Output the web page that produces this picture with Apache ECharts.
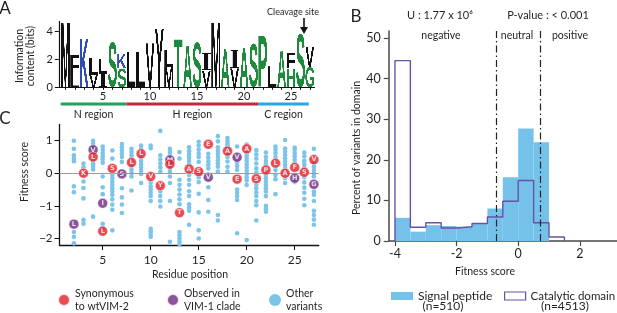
<!DOCTYPE html>
<html>
<head>
<meta charset="utf-8">
<script src="https://cdn.jsdelivr.net/npm/echarts@6/dist/echarts.min.js"></script>
<style>
  html, body { margin: 0; padding: 0; background: #fff; }
  #chart { width: 617px; height: 313px; }
</style>
</head>
<body>
<div id="chart"></div>
<script>
// ---------- Panel A : sequence logo ----------
// letters of each residue stack, bottom to top, and their heights in bits
const logoLetters = [['M'], ['L', 'F'], ['K'], ['V', 'L'], ['I', 'L'], ['S'], ['S', 'K'], ['L'], ['L'], ['V'],
  ['Y'], ['M', 'L'], ['T'], ['A'], ['S'], ['V', 'I'], ['M'], ['A'], ['V', 'I'], ['A'],
  ['S'], ['P'], ['L'], ['A'], ['H', 'F'], ['S'], ['G', 'V']];
const logoHeights = [[4.65], [0.8, 1.5], [3.5], [0.9, 1.2], [1.0, 1.05], [3.25], [1.35, 1.05], [2.55], [2.55], [3.15],
  [4.2], [1.45, 1.2], [3.45], [3.0], [3.25], [1.2, 1.25], [4.65], [2.75], [1.35, 1.35], [2.85],
  [3.15], [3.65], [1.5], [2.6], [1.35, 1.1], [3.85], [1.45, 1.45]];
const logoTickLabels = [5, 10, 15, 20, 25];
const regionNames = ['N region', 'H region', 'C region'];
const regionStarts = [0.5, 7.5, 21.5];
const regionEnds = [7.5, 21.5, 26.9];

// ---------- Panel C : fitness per residue ----------
const otherPositions = [2, 3, 4, 5, 6, 7, 8, 9, 10, 11, 12, 13, 14, 15, 16, 17, 18, 19, 20, 21, 22, 23, 24, 25, 26, 27];
const otherScores = [
  [1.0, 0.75, 0.55, 0.45, 0.37, -0.4, -0.58, -1.8, -1.95, -2.15],
  [0.3, 0.18, -0.25, -0.45, -0.77, -1.43, -1.55],
  [1.0, 0.9, 0.8, 0.62, 0.42, 0.35, 0.28, 0.2, 0.12, -1.33],
  [0.82, 0.72, 0.62, 0.52, 0.42, 0.32, -0.1, -0.43, -0.64, -1.55, -1.67],
  [0.7, 0.45, -0.05, -0.15, -0.26, -0.36, -0.46, -0.56, -0.66, -0.8, -0.96, -1.12, -1.75],
  [0.9, 0.8, 0.7, 0.6, 0.5, 0.35, -0.46, -0.74, -0.96, -1.22],
  [0.75, 0.65, 0.55, 0.45, 0.22, 0.12, 0.02, -0.1, -0.53],
  [0.85, 0.75, 0.48, 0.38, 0.28, 0.18, 0.08, -0.02, -0.3],
  [0.85, 0.77, -0.28, -0.4, -0.5, -0.6, -0.7, -0.85, -1.7, -1.78, -1.86, -1.95],
  [1.3, 0.55, 0.42, 0.3, 0.18, 0.05, -0.56, -0.7, -0.85, -1.02],
  [0.75, 0.65, 0.55, 0.15, 0.05, -0.1, -0.3, -0.85, -2.1],
  [0.65, 0.45, -0.2, -0.35, -0.5, -0.65, -0.8, -0.95, -1.8, -1.9, -2.0, -2.1, -2.18],
  [0.8, 0.68, 0.58, 0.48, 0.38, 0.28, -0.05, -0.2, -0.35, -0.55, -0.7, -0.95, -1.05, -1.15, -1.58],
  [0.97, 0.85, 0.72, 0.6, 0.5, 0.35, -0.12, -0.27, -0.63, -1.2, -1.75, -2.0],
  [0.6, 0.48, 0.36, 0.26, 0.15, -0.43, -0.82, -1.18],
  [1.14, 0.98, 0.8, 0.7, 0.6, 0.5, 0.4, 0.3, 0.2, 0.05, -1.28, -1.45],
  [1.08, 1.0, 0.93, 0.86, 0.8, 0.74, 0.6, 0.5, 0.36, 0.2, 0.05],
  [0.82, 0.33, 0.22, 0.1, -0.5, -0.6, -0.7, -0.82, -1.84],
  [0.88, 0.64, 0.55, 0.47, 0.38, 0.28, 0.18, 0.08, -0.02, -0.12, -0.22, -0.36, -2.05],
  [0.71, 0.58, 0.45, 0.3, 0.15, 0.02, -0.35, -0.46, -0.58, -0.7, -0.85, -0.98, -1.45],
  [0.64, 0.5, 0.38, 0.28, -0.05, -0.15, -0.26, -0.36, -0.46, -0.56, -0.7, -1.0, -1.1, -1.18],
  [0.82, 0.72, 0.62, 0.5, 0.1, -0.05, -0.18, -0.64],
  [1.02, 0.76, 0.66, 0.56, 0.46, 0.36, 0.26, 0.16, 0.07, -0.15, -0.3],
  [0.79, 0.72, 0.62, 0.52, 0.42, 0.32, -0.27],
  [0.64, 0.52, 0.38, 0.28, 0.18, -0.12, -0.28, -0.44, -0.6, -0.78, -0.98],
  [0.75, 0.3, 0.2, 0.1, 0.0, -0.1, -0.56, -0.66, -0.85, -1.15, -1.28, -1.42, -1.58]
];
const synPositions = [3, 4, 5, 6, 8, 9, 10, 11, 12, 13, 14, 15, 16, 18, 19, 20, 21, 22, 23, 24, 25, 26, 27];
const synScores = [0.0, 0.5, -1.78, 0.15, 0.33, 0.6, -0.1, -0.38, 0.28, -1.21, 0.13, 0.05, 0.89, 0.68, -0.18, 0.75, -0.17, 0.1, 0.31, 0.0, 0.18, 0.03, 0.42];
const synResidues = ['K', 'L', 'L', 'S', 'L', 'L', 'V', 'Y', 'L', 'T', 'A', 'S', 'E', 'A', 'E', 'A', 'S', 'P', 'L', 'A', 'F', 'S', 'V'];
const cladePositions = [2, 4, 5, 7, 12, 16, 19, 25, 27];
const cladeScores = [-1.56, 0.72, -0.92, -0.02, 0.41, -0.12, 0.49, -0.15, -0.34];
const cladeResidues = ['L', 'V', 'I', 'S', 'M', 'V', 'V', 'H', 'G'];
const positionTicks = [5, 10, 15, 20, 25];
const scoreTicks = [-2, -1, 0, 1];

// ---------- Panel B : histogram ----------
const binStarts = [-4, -3.5, -3, -2.5, -2, -1.5, -1, -0.5, 0, 0.5, 1];
const binWidth = 0.5;
const signalPct = [5.7, 2.3, 3.9, 3.7, 3.5, 4.2, 8.0, 15.7, 27.7, 24.3, 0];
const catalyticPct = [44.4, 3.4, 4.5, 3.2, 3.5, 4.3, 5.9, 9.8, 14.9, 4.5, 1.0];
const fitnessCutoffs = [-0.7, 0.7];
const fitnessTicks = [-4, -2, 0, 2];
const percentTicks = [0, 10, 20, 30, 40, 50];

const FONT = 'Lato';
const TXT = '#231f20';
const LOGO_FONT = 'bold 100px "Liberation Sans"';
const LOGO_FONT_SERIF = 'bold 100px "Liberation Serif"';
const letterColor = { K: '#2e4cb3', S: '#1d8a3e', T: '#1d8a3e', A: '#1d8a3e', P: '#1d8a3e', G: '#1d8a3e', H: '#1d8a3e' };
const regionColors = ['#22a05c', '#c32a3d', '#28a8e2'];

// each logo letter is painted once into a canvas cropped to its glyph box,
// then stretched over its cell as an image (I keeps its serifs, as in the logo)
const glyphCanvas = {};
function glyphImage (ch, color) {
  const key = ch + color;
  if (!glyphCanvas[key]) {
    const W = 90, H = 140;
    const cv = document.createElement('canvas');
    cv.width = W; cv.height = H;
    const ctx = cv.getContext('2d');
    ctx.font = ch === 'I' ? LOGO_FONT_SERIF : LOGO_FONT;
    ctx.textAlign = 'center';
    ctx.textBaseline = 'middle';
    const m = ctx.measureText(ch);
    const l = -m.actualBoundingBoxLeft, r = m.actualBoundingBoxRight;
    const t = -m.actualBoundingBoxAscent, b = m.actualBoundingBoxDescent;
    const sx = W / (r - l), sy = H / (b - t);
    ctx.setTransform(sx, 0, 0, sy, -l * sx, -t * sy);
    ctx.fillStyle = color;
    ctx.fillText(ch, 0, 0);
    glyphCanvas[key] = cv;
  }
  return glyphCanvas[key];
}

const logoItems = [];
logoLetters.forEach((stack, i) => {
  let base = 0;
  stack.forEach((ch, k) => {
    logoItems.push({ pos: i + 1, base: base, h: logoHeights[i][k], ch: ch });
    base += logoHeights[i][k];
  });
});

const otherData = [];
otherPositions.forEach((p, i) => otherScores[i].forEach(v => otherData.push([p, v])));

const axisText = (size) => ({ fontFamily: FONT, fontSize: size, color: TXT });
const minus = v => (v < 0 ? '\u2212' + Math.abs(v) : String(v));

const option = {
  animation: false,
  grid: [
    { left: 58.8, top: 21.5, width: 255.7, height: 65.8, containLabel: false, outerBoundsMode: 'none' },
    { left: 59.5, top: 124.4, width: 259.2, height: 120.6, containLabel: false, outerBoundsMode: 'none' },
    { left: 388.8, top: 31, width: 228, height: 210, containLabel: false, outerBoundsMode: 'none' }
  ],
  xAxis: [
    {
      gridIndex: 0, type: 'value', min: 0.3, max: 27.5,
      axisLine: { onZero: false, lineStyle: { color: '#111', width: 1.2 } },
      axisTick: { customValues: logoLetters.map((s, i) => i + 1), length: 2.5, lineStyle: { color: '#111' } },
      axisLabel: Object.assign({ customValues: logoTickLabels, margin: 4 }, axisText(11)),
      splitLine: { show: false }
    },
    {
      gridIndex: 1, type: 'value', min: 0.5, max: 27.5,
      axisLine: { onZero: false, lineStyle: { color: '#111', width: 1.3 } },
      axisTick: { customValues: positionTicks, length: 5, lineStyle: { color: '#111' } },
      axisLabel: Object.assign({ customValues: positionTicks, margin: 9 }, axisText(12)),
      splitLine: { show: false }
    },
    {
      gridIndex: 2, type: 'value', min: -4.2, max: 3.2,
      axisLine: { onZero: false, lineStyle: { color: '#4a4a4a', width: 1.5 } },
      axisTick: { customValues: fitnessTicks, length: 5, lineStyle: { color: '#4a4a4a', width: 1.2 } },
      axisLabel: Object.assign({ customValues: fitnessTicks, margin: 6 }, axisText(12.5)),
      splitLine: { show: false }
    }
  ],
  yAxis: [
    {
      gridIndex: 0, type: 'value', min: 0, max: 4.7,
      axisLine: { show: true, onZero: false, lineStyle: { color: '#111', width: 1.2 } },
      axisTick: { show: true, customValues: [0, 2, 4], length: 4, lineStyle: { color: '#111' } },
      axisLabel: Object.assign({ customValues: [0, 2, 4], margin: 6 }, axisText(11)),
      splitLine: { show: false }
    },
    {
      gridIndex: 1, type: 'value', min: -2.2, max: 1.5,
      axisLine: { show: true, onZero: false, lineStyle: { color: '#111', width: 1.3 } },
      axisTick: { show: true, customValues: scoreTicks, length: 5, lineStyle: { color: '#111' } },
      axisLabel: Object.assign({ customValues: scoreTicks, margin: 7, formatter: minus }, axisText(11.5)),
      splitLine: { show: false }
    },
    {
      gridIndex: 2, type: 'value', min: 0, max: 51.7,
      axisLine: { show: true, onZero: false, lineStyle: { color: '#4a4a4a', width: 1.5 } },
      axisTick: { show: true, customValues: percentTicks, length: 5, lineStyle: { color: '#4a4a4a', width: 1.2 } },
      axisLabel: Object.assign({ customValues: percentTicks, margin: 8 }, axisText(12.5)),
      splitLine: { show: false }
    }
  ],
  legend: [
    { data: ['syn'], left: 52, top: 282, icon: 'circle', itemWidth: 12, itemHeight: 12, selectedMode: false,
      formatter: () => 'Synonymous\nto wtVIM-2', textStyle: { fontFamily: FONT, fontSize: 10.5, lineHeight: 13, color: TXT } },
    { data: ['clade'], left: 161, top: 282, icon: 'circle', itemWidth: 12, itemHeight: 12, selectedMode: false,
      formatter: () => 'Observed in\nVIM-1 clade', textStyle: { fontFamily: FONT, fontSize: 10.5, lineHeight: 13, color: TXT } },
    { data: ['other'], left: 264, top: 282, icon: 'circle', itemWidth: 12, itemHeight: 12, selectedMode: false,
      formatter: () => 'Other\nvariants', textStyle: { fontFamily: FONT, fontSize: 10.5, lineHeight: 13, color: TXT } },
    { data: [{ name: 'signal', icon: 'rect' }], left: 386, top: 284.5, itemWidth: 22, itemHeight: 8, selectedMode: false,
      formatter: () => 'Signal peptide', textStyle: { fontFamily: FONT, fontSize: 12, lineHeight: 13, color: TXT } },
    { data: [{ name: 'catalytic', icon: 'rect', itemStyle: { color: '#fff', borderColor: '#6b51a6', borderWidth: 1.2 } }],
      left: 499, top: 284.5, itemWidth: 21, itemHeight: 8, selectedMode: false,
      formatter: () => 'Catalytic domain', textStyle: { fontFamily: FONT, fontSize: 11.5, lineHeight: 13, color: TXT } }
  ],
  series: [
    // A: logo letters, each stretched into its cell
    {
      type: 'custom', xAxisIndex: 0, yAxisIndex: 0, clip: false, silent: true,
      data: logoItems.map(d => [d.pos, d.base, d.h]),
      renderItem: function (params, api) {
        const it = logoItems[params.dataIndex];
        const p0 = api.coord([api.value(0) - 0.47, api.value(1) + api.value(2)]);
        const p1 = api.coord([api.value(0) + 0.47, api.value(1)]);
        return {
          type: 'image',
          style: { image: glyphImage(it.ch, letterColor[it.ch] || '#111'), x: p0[0], y: p0[1], width: p1[0] - p0[0], height: p1[1] - p0[1] }
        };
      }
    },
    // A: N / H / C region bars under the logo
    {
      type: 'custom', xAxisIndex: 0, yAxisIndex: 0, clip: false, silent: true,
      data: regionStarts.map((s, i) => [s, regionEnds[i]]),
      renderItem: function (params, api) {
        const i = params.dataIndex;
        const a = api.coord([api.value(0), -1.2]);
        const b = api.coord([api.value(1), -1.2]);
        const c = api.coord([(api.value(0) + api.value(1)) / 2, -1.95]);
        return {
          type: 'group', children: [
            { type: 'line', shape: { x1: a[0], y1: a[1], x2: b[0], y2: b[1] }, style: { stroke: regionColors[i], lineWidth: 3 } },
            { type: 'text', style: { text: regionNames[i], x: c[0], y: c[1], align: 'center', verticalAlign: 'middle', fontFamily: FONT, fontSize: 10.5, fill: TXT } }
          ]
        };
      }
    },
    // C: other variants
    {
      name: 'other', type: 'scatter', xAxisIndex: 1, yAxisIndex: 1, symbolSize: 4.6,
      itemStyle: { color: '#7cc4ea', opacity: 1 }, data: otherData, z: 2,
      markLine: { silent: true, symbol: ['none', 'none'], label: { show: false },
        lineStyle: { color: '#9a9a9a', width: 1, type: 'solid' }, data: [{ yAxis: 0 }] }
    },
    {
      name: 'clade', type: 'scatter', xAxisIndex: 1, yAxisIndex: 1, symbolSize: 10, z: 4,
      itemStyle: { color: '#6f2a80', borderColor: '#fff', borderWidth: 0.6 },
      data: cladePositions.map((p, i) => ({ value: [p, cladeScores[i]], res: cladeResidues[i] })),
      label: { show: true, position: 'inside', formatter: p => p.data.res, color: '#fff', fontSize: 6.5, fontWeight: 'bold', fontFamily: 'DejaVu Sans' }
    },
    {
      name: 'syn', type: 'scatter', xAxisIndex: 1, yAxisIndex: 1, symbolSize: 10, z: 5,
      itemStyle: { color: '#e41f27', borderColor: '#fff', borderWidth: 0.6 },
      data: synPositions.map((p, i) => ({ value: [p, synScores[i]], res: synResidues[i] })),
      label: { show: true, position: 'inside', formatter: p => p.data.res, color: '#fff', fontSize: 6.5, fontWeight: 'bold', fontFamily: 'DejaVu Sans' }
    },
    // B: signal peptide histogram
    {
      name: 'signal', type: 'custom', xAxisIndex: 2, yAxisIndex: 2, itemStyle: { color: '#74c2ea' }, z: 2,
      data: binStarts.map((x, i) => [x, x + binWidth, signalPct[i]]),
      renderItem: function (params, api) {
        const p0 = api.coord([api.value(0), api.value(2)]);
        const p1 = api.coord([api.value(1), 0]);
        return { type: 'rect', shape: { x: p0[0], y: p0[1], width: p1[0] - p0[0], height: p1[1] - p0[1] }, style: { fill: '#74c2ea' } };
      }
    },
    // B: catalytic domain histogram outline
    {
      name: 'catalytic', type: 'line', xAxisIndex: 2, yAxisIndex: 2, step: 'end', showSymbol: false, z: 3,
      lineStyle: { color: '#6b51a6', width: 1.4 }, itemStyle: { color: '#6b51a6' },
      data: [[binStarts[0], 0]].concat(binStarts.map((x, i) => [x, catalyticPct[i]]), [[binStarts[binStarts.length - 1] + binWidth, 0]]),
      markLine: { silent: true, symbol: ['none', 'none'], label: { show: false },
        lineStyle: { color: '#222', width: 1.2, type: [7, 3, 1.5, 3] },
        data: fitnessCutoffs.map(v => ({ xAxis: v })) }
    }
  ],
  graphic: { elements: [
    { type: 'text', x: 5, y: 9, style: { text: 'A', fontFamily: FONT, fontSize: 17, fill: TXT, align: 'center', verticalAlign: 'middle' } },
    { type: 'text', x: 356, y: 17, style: { text: 'B', fontFamily: FONT, fontSize: 17, fill: TXT, align: 'center', verticalAlign: 'middle' } },
    { type: 'text', x: 5, y: 119, style: { text: 'C', fontFamily: FONT, fontSize: 17, fill: TXT, align: 'center', verticalAlign: 'middle' } },
    { type: 'text', x: 25, y: 56, rotation: Math.PI / 2, style: { text: 'Information\ncontent (bits)', fontFamily: FONT, fontSize: 10.5, lineHeight: 11, fill: TXT, align: 'center', verticalAlign: 'middle' } },
    { type: 'text', x: 293, y: 12, style: { text: 'Cleavage site', fontFamily: FONT, fontSize: 9, fill: TXT, align: 'center', verticalAlign: 'middle' } },
    { type: 'line', shape: { x1: 304, y1: 18, x2: 304, y2: 29 }, style: { stroke: '#111', lineWidth: 1.6 } },
    { type: 'polygon', shape: { points: [[300, 27], [308, 27], [304, 34]] }, style: { fill: '#111' } },
    { type: 'text', x: 25, y: 172, rotation: Math.PI / 2, style: { text: 'Fitness score', fontFamily: FONT, fontSize: 10.5, fill: TXT, align: 'center', verticalAlign: 'middle' } },
    { type: 'text', x: 190, y: 275, style: { text: 'Residue position', fontFamily: FONT, fontSize: 10.5, fill: TXT, align: 'center', verticalAlign: 'middle' } },
    { type: 'text', x: 440, y: 15, style: { text: 'U : 1.77 x 10\u2076', fontFamily: FONT, fontSize: 11, fill: TXT, align: 'center', verticalAlign: 'middle' } },
    { type: 'text', x: 548, y: 15, style: { text: 'P-value : < 0.001', fontFamily: FONT, fontSize: 11, fill: TXT, align: 'center', verticalAlign: 'middle' } },
    { type: 'text', x: 441, y: 36, style: { text: 'negative', fontFamily: FONT, fontSize: 10.5, fill: TXT, align: 'center', verticalAlign: 'middle' } },
    { type: 'text', x: 517, y: 36, style: { text: 'neutral', fontFamily: FONT, fontSize: 10.5, fill: TXT, align: 'center', verticalAlign: 'middle' } },
    { type: 'text', x: 570, y: 36, style: { text: 'positive', fontFamily: FONT, fontSize: 10.5, fill: TXT, align: 'center', verticalAlign: 'middle' } },
    { type: 'text', x: 357, y: 148, rotation: Math.PI / 2, style: { text: 'Percent of variants in domain', fontFamily: FONT, fontSize: 10.5, fill: TXT, align: 'center', verticalAlign: 'middle' } },
    { type: 'text', x: 485, y: 272, style: { text: 'Fitness score', fontFamily: FONT, fontSize: 10.5, fill: TXT, align: 'center', verticalAlign: 'middle' } },
    { type: 'text', x: 443, y: 306, style: { text: '(n=510)', fontFamily: FONT, fontSize: 12, fill: TXT, align: 'center', verticalAlign: 'middle' } },
    { type: 'text', x: 565, y: 306, style: { text: '(n=4513)', fontFamily: FONT, fontSize: 12, fill: TXT, align: 'center', verticalAlign: 'middle' } }
  ] }
};

const chart = echarts.init(document.getElementById('chart'));
chart.setOption(option, true);
</script>
</body>
</html>
